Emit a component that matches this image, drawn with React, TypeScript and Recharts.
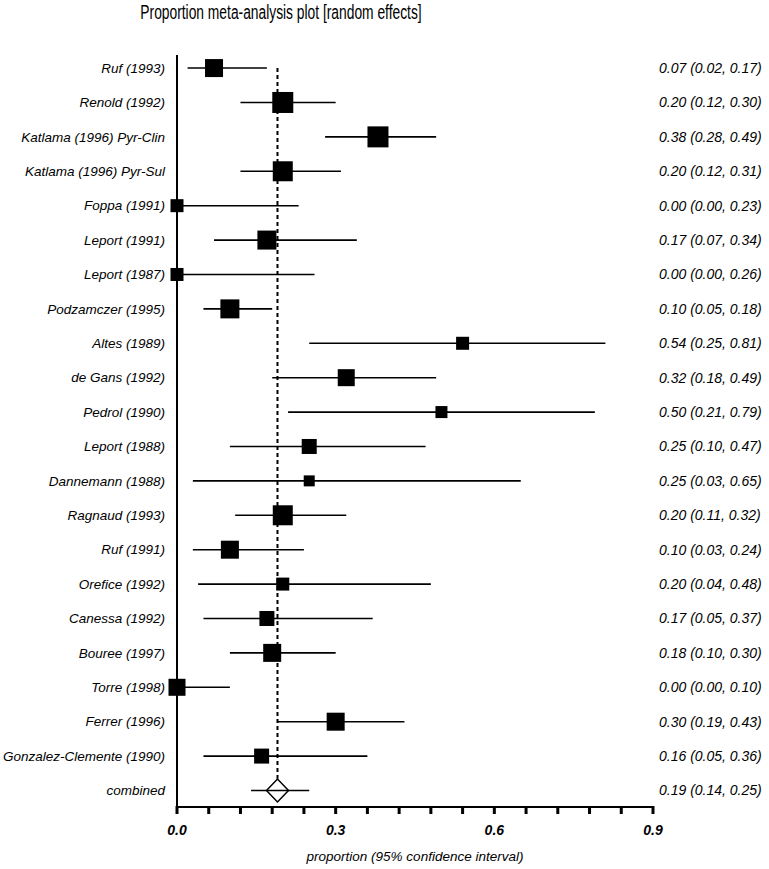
import React from "react";
import { ScatterChart, Scatter, XAxis, YAxis, ErrorBar, ReferenceLine } from "recharts";

// study labels, top to bottom
const studies = [
  "Ruf (1993)",
  "Renold (1992)",
  "Katlama (1996) Pyr-Clin",
  "Katlama (1996) Pyr-Sul",
  "Foppa (1991)",
  "Leport (1991)",
  "Leport (1987)",
  "Podzamczer (1995)",
  "Altes (1989)",
  "de Gans (1992)",
  "Pedrol (1990)",
  "Leport (1988)",
  "Dannemann (1988)",
  "Ragnaud (1993)",
  "Ruf (1991)",
  "Orefice (1992)",
  "Canessa (1992)",
  "Bouree (1997)",
  "Torre (1998)",
  "Ferrer (1996)",
  "Gonzalez-Clemente (1990)",
  "combined",
];

const estimates = [0.07, 0.2, 0.38, 0.2, 0.0, 0.17, 0.0, 0.1, 0.54, 0.32, 0.5, 0.25, 0.25, 0.2, 0.1, 0.2, 0.17, 0.18, 0.0, 0.3, 0.16, 0.19];
const lower = [0.02, 0.12, 0.28, 0.12, 0.0, 0.07, 0.0, 0.05, 0.25, 0.18, 0.21, 0.1, 0.03, 0.11, 0.03, 0.04, 0.05, 0.1, 0.0, 0.19, 0.05, 0.14];
const upper = [0.17, 0.3, 0.49, 0.31, 0.23, 0.34, 0.26, 0.18, 0.81, 0.49, 0.79, 0.47, 0.65, 0.32, 0.24, 0.48, 0.37, 0.3, 0.1, 0.43, 0.36, 0.25];
// relative study weight -> box size
const weights = [18, 21, 21, 20, 13, 19, 13, 19, 13, 17, 12, 15, 11, 20, 18, 13, 15, 18, 17, 18, 15, 0];

const xTicks = [0, 0.06, 0.12, 0.18, 0.24, 0.3, 0.36, 0.42, 0.48, 0.54, 0.6, 0.66, 0.72, 0.78, 0.84, 0.9];
const xLabels = ["0.0", "0.3", "0.6", "0.9"];

const rows = studies.map((name, i) => ({
  row: i,
  name,
  est: estimates[i],
  err: [estimates[i] - lower[i], upper[i] - estimates[i]],
  size: weights[i],
  pooled: name === "combined",
}));

const pooledIdx = studies.length - 1;
const pooled = estimates[pooledIdx];

const fmt = (v: number) => v.toFixed(2);
const statText = (i: number) => `${fmt(estimates[i])} (${fmt(lower[i])}, ${fmt(upper[i])})`;

const FONT = "'Liberation Sans', Arial, Helvetica, sans-serif";

const Mark = (props: any) => {
  const { cx, cy, payload } = props;
  if (cx == null || cy == null) return <g />;
  if (payload.pooled) {
    const w = 11, h = 11.5;
    return (
      <polygon
        points={`${cx - w},${cy} ${cx},${cy - h} ${cx + w},${cy} ${cx},${cy + h}`}
        fill="none"
        stroke="#000"
        strokeWidth={1.5}
      />
    );
  }
  const s = payload.size;
  return <rect x={cx - s / 2} y={cy - s / 2} width={s} height={s} fill="#000" />;
};

const xTickLabel = (v: number) => {
  const k = Math.round(v / 0.3);
  return Math.abs(v - k * 0.3) < 1e-6 ? xLabels[k] : "";
};

// tick mark + label drawn here so the minor ticks always show
const XTick = (props: any) => {
  const { x, y, payload } = props;
  const label = xTickLabel(payload.value);
  return (
    <g>
      <rect x={x - 1.5} y={y - 1} width={3} height={8} fill="#000" stroke="none" />
      {label && (
        <text
          x={x}
          y={y + 28}
          textAnchor="middle"
          fill="#000"
          stroke="none"
          fontSize={14}
          fontStyle="italic"
          fontWeight="bold"
          fontFamily={FONT}
        >
          {label}
        </text>
      )}
    </g>
  );
};

export default function App() {
  return (
    <div style={{ position: "absolute", left: 0, top: 0, width: 769, height: 869, background: "#fff" }}>
      <div
        style={{
          position: "absolute",
          left: 0,
          top: 0,
          width: 562,
          textAlign: "center",
          fontFamily: FONT,
          fontSize: 20,
          lineHeight: "24px",
          color: "#000",
          transform: "scaleX(0.69)",
          transformOrigin: "281px 0",
        }}
      >
        Proportion meta-analysis plot [random effects]
      </div>
      <ScatterChart width={769} height={869} margin={{ top: 55, right: 0, bottom: 0, left: 0 }}>
        <XAxis
          type="number"
          dataKey="est"
          domain={[0, 0.9]}
          ticks={xTicks}
          interval={0}
          height={62}
          axisLine={{ stroke: "#000", strokeWidth: 2 }}
          tickLine={false}
          tickSize={0}
          tickMargin={0}
          tick={<XTick />}
          label={{
            value: "proportion (95% confidence interval)",
            position: "insideBottom",
            offset: 8,
            style: { fill: "#000", fontSize: 13.5, fontStyle: "italic", fontFamily: FONT },
          }}
        />
        <YAxis
          yAxisId="l"
          type="number"
          dataKey="row"
          domain={[-0.38, 21.48]}
          reversed
          ticks={rows.map((r) => r.row)}
          interval={0}
          tickFormatter={(v: number) => studies[v] ?? ""}
          width={177}
          axisLine={{ stroke: "#000", strokeWidth: 2 }}
          tickLine={false}
          tickSize={6}
          tickMargin={6}
          tick={{ fill: "#000", fontSize: 13.5, fontStyle: "italic", fontFamily: FONT }}
        />
        <YAxis
          yAxisId="r"
          orientation="right"
          type="number"
          dataKey="row"
          domain={[-0.38, 21.48]}
          reversed
          ticks={rows.map((r) => r.row)}
          interval={0}
          tickFormatter={(v: number) => statText(v)}
          width={116}
          axisLine={false}
          tickLine={false}
          tickSize={0}
          tickMargin={6}
          tick={{ fill: "#000", fontSize: 14, fontStyle: "italic", fontFamily: FONT }}
        />
        <ReferenceLine
          yAxisId="l"
          segment={[
            { x: pooled, y: 0 },
            { x: pooled, y: pooledIdx - 0.34 },
          ]}
          stroke="#000"
          strokeWidth={2}
          strokeDasharray="4 3"
        />
        <Scatter yAxisId="r" data={rows} dataKey="row" shape={() => <g />} isAnimationActive={false} />
        <Scatter yAxisId="l" data={rows} dataKey="row" shape={Mark} isAnimationActive={false}>
          <ErrorBar dataKey="err" direction="x" width={0} stroke="#000" strokeWidth={1.6} />
        </Scatter>
      </ScatterChart>
    </div>
  );
}
